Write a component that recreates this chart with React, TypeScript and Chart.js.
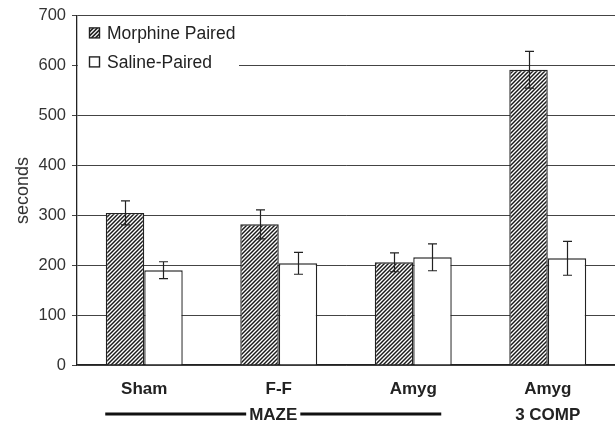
import React, { useEffect, useRef } from "react";
import { Chart, registerables } from "chart.js";

Chart.register(...registerables);

const categories: (string | string[])[] = ["Sham", "F-F", "Amyg", ["Amyg", "3 COMP"]];
const seriesNames = ["Morphine Paired", "Saline-Paired"];
const morphine = [305, 282, 206, 592];
const morphineErr = [24, 29, 19, 37];
const saline = [190, 204, 216, 214];
const salineErr = [17, 22, 27, 34];
const yTicks = [0, 100, 200, 300, 400, 500, 600, 700];
const yTitle = "seconds";
const groupLabel = "MAZE";

const DARK = "#222";
const FONT = "'Liberation Sans', Arial, sans-serif";

function makeHatch(lw: number): CanvasPattern | string {
  const c = document.createElement("canvas");
  const s = 4;
  c.width = s;
  c.height = s;
  const g = c.getContext("2d");
  if (!g) return "#888";
  g.fillStyle = "#fff";
  g.fillRect(0, 0, s, s);
  g.strokeStyle = "#1a1a1a";
  g.lineWidth = lw;
  g.beginPath();
  g.moveTo(-1, s + 1);
  g.lineTo(s + 1, -1);
  g.moveTo(-1, 1);
  g.lineTo(1, -1);
  g.moveTo(s - 1, s + 1);
  g.lineTo(s + 1, s - 1);
  g.stroke();
  const p = g.createPattern(c, "repeat");
  return p || "#888";
}

export default function App() {
  const ref = useRef<HTMLCanvasElement>(null);

  useEffect(() => {
    if (!ref.current) return;
    const hatch = makeHatch(1.45);
    const errs = [morphineErr, salineErr];

    const extras = {
      id: "extras",
      afterDatasetsDraw(chart: any) {
        const ctx = chart.ctx;
        const y = chart.scales.y;
        ctx.save();
        // error bars
        ctx.strokeStyle = DARK;
        ctx.lineWidth = 1.2;
        chart.data.datasets.forEach((ds: any, di: number) => {
          const meta = chart.getDatasetMeta(di);
          meta.data.forEach((bar: any, i: number) => {
            const v = ds.data[i];
            const e = errs[di][i];
            const x = Math.round(bar.x) + 0.5;
            const yt = y.getPixelForValue(v + e);
            const yb = y.getPixelForValue(v - e);
            ctx.beginPath();
            ctx.moveTo(x, yt);
            ctx.lineTo(x, yb);
            ctx.moveTo(x - 4.5, yt);
            ctx.lineTo(x + 4.5, yt);
            ctx.moveTo(x - 4.5, yb);
            ctx.lineTo(x + 4.5, yb);
            ctx.stroke();
          });
        });
        // legend
        const area = chart.chartArea;
        ctx.fillStyle = "#fff";
        ctx.fillRect(area.left + 1, area.top + 2, 161, 58);
        const rowsY = [area.top + 17, area.top + 46];
        ctx.font = `17.5px ${FONT}`;
        ctx.textBaseline = "middle";
        ctx.textAlign = "left";
        seriesNames.forEach((name, i) => {
          const ix = area.left + 12.5;
          const iy = rowsY[i] - 5;
          ctx.fillStyle = "#fff";
          ctx.fillRect(ix, iy, 10, 10);
          ctx.strokeStyle = DARK;
          ctx.lineWidth = 1.4;
          ctx.strokeRect(ix, iy, 10, 10);
          if (i === 0) {
            ctx.save();
            ctx.beginPath();
            ctx.rect(ix, iy, 10, 10);
            ctx.clip();
            ctx.lineWidth = 1.6;
            ctx.beginPath();
            for (let k = -10; k <= 10; k += 4) {
              ctx.moveTo(ix + k, iy + 10);
              ctx.lineTo(ix + k + 10, iy);
            }
            ctx.stroke();
            ctx.restore();
          }
          ctx.fillStyle = "#222";
          ctx.fillText(name, area.left + 30, rowsY[i] + 1);
        });
        ctx.restore();
      },
      afterDraw(chart: any) {
        const ctx = chart.ctx;
        const x = chart.scales.x;
        const x0 = x.getPixelForValue(0) - 39;
        const x1 = x.getPixelForValue(2) + 28;
        const cx = (x0 + x1) / 2;
        const yy = 414;
        ctx.save();
        ctx.font = `bold 17px ${FONT}`;
        const w = ctx.measureText(groupLabel).width;
        ctx.fillStyle = "#222";
        ctx.textAlign = "center";
        ctx.textBaseline = "middle";
        ctx.fillText(groupLabel, cx, yy + 1);
        ctx.strokeStyle = "#111";
        ctx.lineWidth = 3;
        ctx.beginPath();
        ctx.moveTo(x0, yy);
        ctx.lineTo(cx - w / 2 - 3, yy);
        ctx.moveTo(cx + w / 2 + 3, yy);
        ctx.lineTo(x1, yy);
        ctx.stroke();
        ctx.restore();
      },
    };

    const chart = new Chart(ref.current, {
      type: "bar",
      data: {
        labels: categories,
        datasets: [
          {
            label: seriesNames[0],
            data: morphine,
            backgroundColor: hatch as any,
            borderColor: DARK,
            borderWidth: 1.4,
            categoryPercentage: 0.572,
            barPercentage: 1,
          },
          {
            label: seriesNames[1],
            data: saline,
            backgroundColor: "#fff",
            borderColor: DARK,
            borderWidth: 1.4,
            categoryPercentage: 0.572,
            barPercentage: 1,
          },
        ],
      },
      options: {
        animation: false,
        responsive: false,
        maintainAspectRatio: false,
        layout: { padding: { top: 14, right: 0, left: 0, bottom: 0 } },
        plugins: {
          legend: { display: false },
          tooltip: { enabled: false },
        },
        scales: {
          x: {
            grid: { display: false, drawTicks: false },
            border: { display: true, color: DARK, width: 1.3 },
            ticks: {
              color: "#222",
              padding: 11,
              maxRotation: 0,
              autoSkip: false,
              font: { family: FONT, size: 17, weight: "bold", lineHeight: "26px" } as any,
            },
            afterFit: (s: any) => {
              s.height = 61;
            },
          },
          y: {
            min: 0,
            max: 700,
            afterBuildTicks: (s: any) => {
              s.ticks = yTicks.map((v) => ({ value: v }));
            },
            grid: { color: "#444", lineWidth: 1, tickLength: 5, drawTicks: true },
            border: { display: true, color: DARK, width: 1.3 },
            ticks: {
              color: "#333",
              padding: 6,
              font: { family: FONT, size: 16.5 },
            },
            title: {
              display: true,
              text: yTitle,
              color: "#333",
              font: { family: FONT, size: 18 },
              padding: { top: 12, bottom: 0 },
            },
            afterFit: (s: any) => {
              s.width = 77;
            },
          },
        },
      },
      plugins: [extras],
    });
    return () => chart.destroy();
  }, []);

  return (
    <div style={{ position: "fixed", left: 0, top: 0, width: 615, height: 426, background: "#fff" }}>
      <canvas ref={ref} width={615} height={426} style={{ width: 615, height: 426 }} />
    </div>
  );
}
